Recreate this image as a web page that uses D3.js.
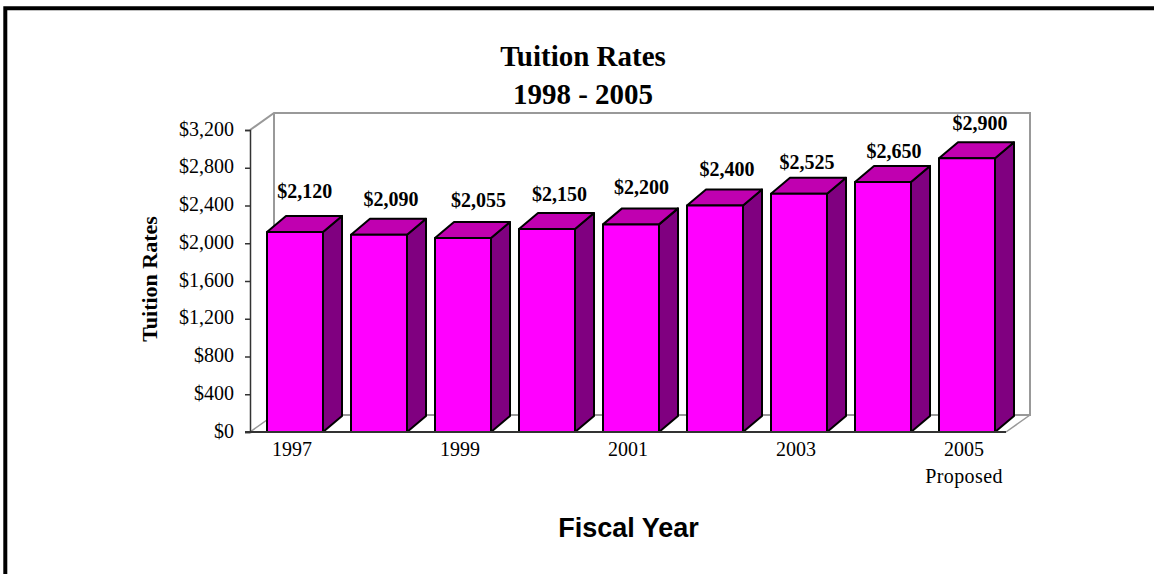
<!DOCTYPE html>
<html>
<head>
<meta charset="utf-8">
<script src="https://cdn.jsdelivr.net/npm/d3@7"></script>
<style>
html,body{margin:0;padding:0;background:#fff}
svg{display:block}
text{font-family:"Liberation Serif",serif;fill:#000}
</style>
</head>
<body>
<svg id="chart" width="1154" height="574"></svg>
<script>
const fiscalYears = ["1997","1998","1999","2000","2001","2002","2003","2004","2005"];
const tuition = [2120,2090,2055,2150,2200,2400,2525,2650,2900];
const yTicks = [0,400,800,1200,1600,2000,2400,2800,3200];
const shownYears = ["1997","1999","2001","2003","2005"];
const titleLines = ["Tuition Rates","1998 - 2005"];
// hand placement of each value label relative to its bar
const labelLift = [34,29,31,28,30,29.5,25,24,28];
const labelShift = [9.7,12,15.5,12.5,10.5,12,8,11,13];

const svg = d3.select("#chart");
const fmt = v => "$" + d3.format(",")(v);

const plotLeft = 250, plotRight = 1006, plotBottom = 432, plotTop = 130;
const depthX = 19, depthY = 16;
const wallX = 24, wallY = 17;

const x = d3.scaleBand().domain(fiscalYears).range([253, 1009]).paddingInner(1/3).paddingOuter(1/6);
const y = d3.scaleLinear().domain([0,3200]).range([plotBottom, plotTop]);

// page frame: left and top edges only
svg.append("path").attr("d","M5.3,574V8.3H1154").attr("fill","none").attr("stroke","#000").attr("stroke-width",4);

// back wall and floor outline
const wall = "#999";
svg.append("path")
  .attr("d",`M${plotLeft},${plotTop}L${plotLeft+wallX},${plotTop-wallY}H${plotRight+wallX}V${plotBottom-wallY}H${plotLeft+wallX}V${plotTop-wallY}`)
  .attr("fill","none").attr("stroke",wall).attr("stroke-width",2);
svg.append("path")
  .attr("d",`M${plotLeft},${plotBottom}L${plotLeft+wallX},${plotBottom-wallY}M${plotRight},${plotBottom}L${plotRight+wallX},${plotBottom-wallY}`)
  .attr("fill","none").attr("stroke",wall).attr("stroke-width",1.5);

// y axis
const yAxis = d3.axisLeft(y).tickValues(yTicks).tickFormat(fmt).tickSize(5).tickPadding(11);
const gy = svg.append("g").attr("transform",`translate(${plotLeft},0)`).call(yAxis);
gy.select(".domain").attr("stroke","#333").attr("stroke-width",1.5);
gy.selectAll("line").attr("stroke","#333").attr("stroke-width",1.5);
gy.selectAll("text").attr("font-size",20).attr("font-family","Liberation Serif").attr("dy","0.25em");

// 3D columns
const g = svg.selectAll(".col").data(fiscalYears).join("g").attr("class","col");
function face(sel,color,d){
  sel.append("path").attr("d",d).attr("fill",color)
    .attr("stroke","#000").attr("stroke-width",2).attr("stroke-linejoin","round");
}
g.each(function(d,i){
  const s = d3.select(this), x0 = x(d), x1 = x0 + x.bandwidth(), yt = y(tuition[i]);
  face(s,"#800080",`M${x1},${yt}l${depthX},${-depthY}V${plotBottom-depthY}L${x1},${plotBottom}Z`);
  face(s,"#c000b0",`M${x0},${yt}l${depthX},${-depthY}H${x1+depthX}L${x1},${yt}Z`);
  face(s,"#ff00ff",`M${x0},${yt}H${x1}V${plotBottom}H${x0}Z`);
});

// baseline drawn over the column feet
svg.append("line").attr("x1",plotLeft-5).attr("x2",plotRight).attr("y1",plotBottom).attr("y2",plotBottom)
  .attr("stroke","#333").attr("stroke-width",2);

// value labels
svg.selectAll(".val").data(fiscalYears).join("text").attr("class","val")
  .attr("x",(d,i) => x(d) + x.bandwidth()/2 + labelShift[i])
  .attr("y",(d,i) => y(tuition[i]) - labelLift[i])
  .attr("text-anchor","middle").attr("font-size",20).attr("font-weight","bold")
  .text((d,i) => fmt(tuition[i]));

// x labels
svg.selectAll(".yr").data(shownYears).join("text").attr("class","yr")
  .attr("x",d => x(d) + x.bandwidth()/2 - 3).attr("y",456)
  .attr("text-anchor","middle").attr("font-size",20).text(d => d);
svg.append("text").attr("x",964).attr("y",483).attr("text-anchor","middle").attr("font-size",20)
  .attr("letter-spacing",0.4).text("Proposed");

// titles
svg.selectAll(".ttl").data(titleLines).join("text").attr("class","ttl")
  .attr("x",583).attr("y",(d,i) => 66 + i*38)
  .attr("text-anchor","middle").attr("font-size",29).attr("font-weight","bold").text(d => d);

svg.append("text").attr("transform","translate(157,279) rotate(-90)")
  .attr("text-anchor","middle").attr("font-size",22).attr("font-weight","bold").text("Tuition Rates");
svg.append("text").attr("x",628.5).attr("y",537)
  .attr("text-anchor","middle").attr("font-size",27).attr("font-weight","bold")
  .style("font-family","Liberation Sans").text("Fiscal Year");
</script>
</body>
</html>
